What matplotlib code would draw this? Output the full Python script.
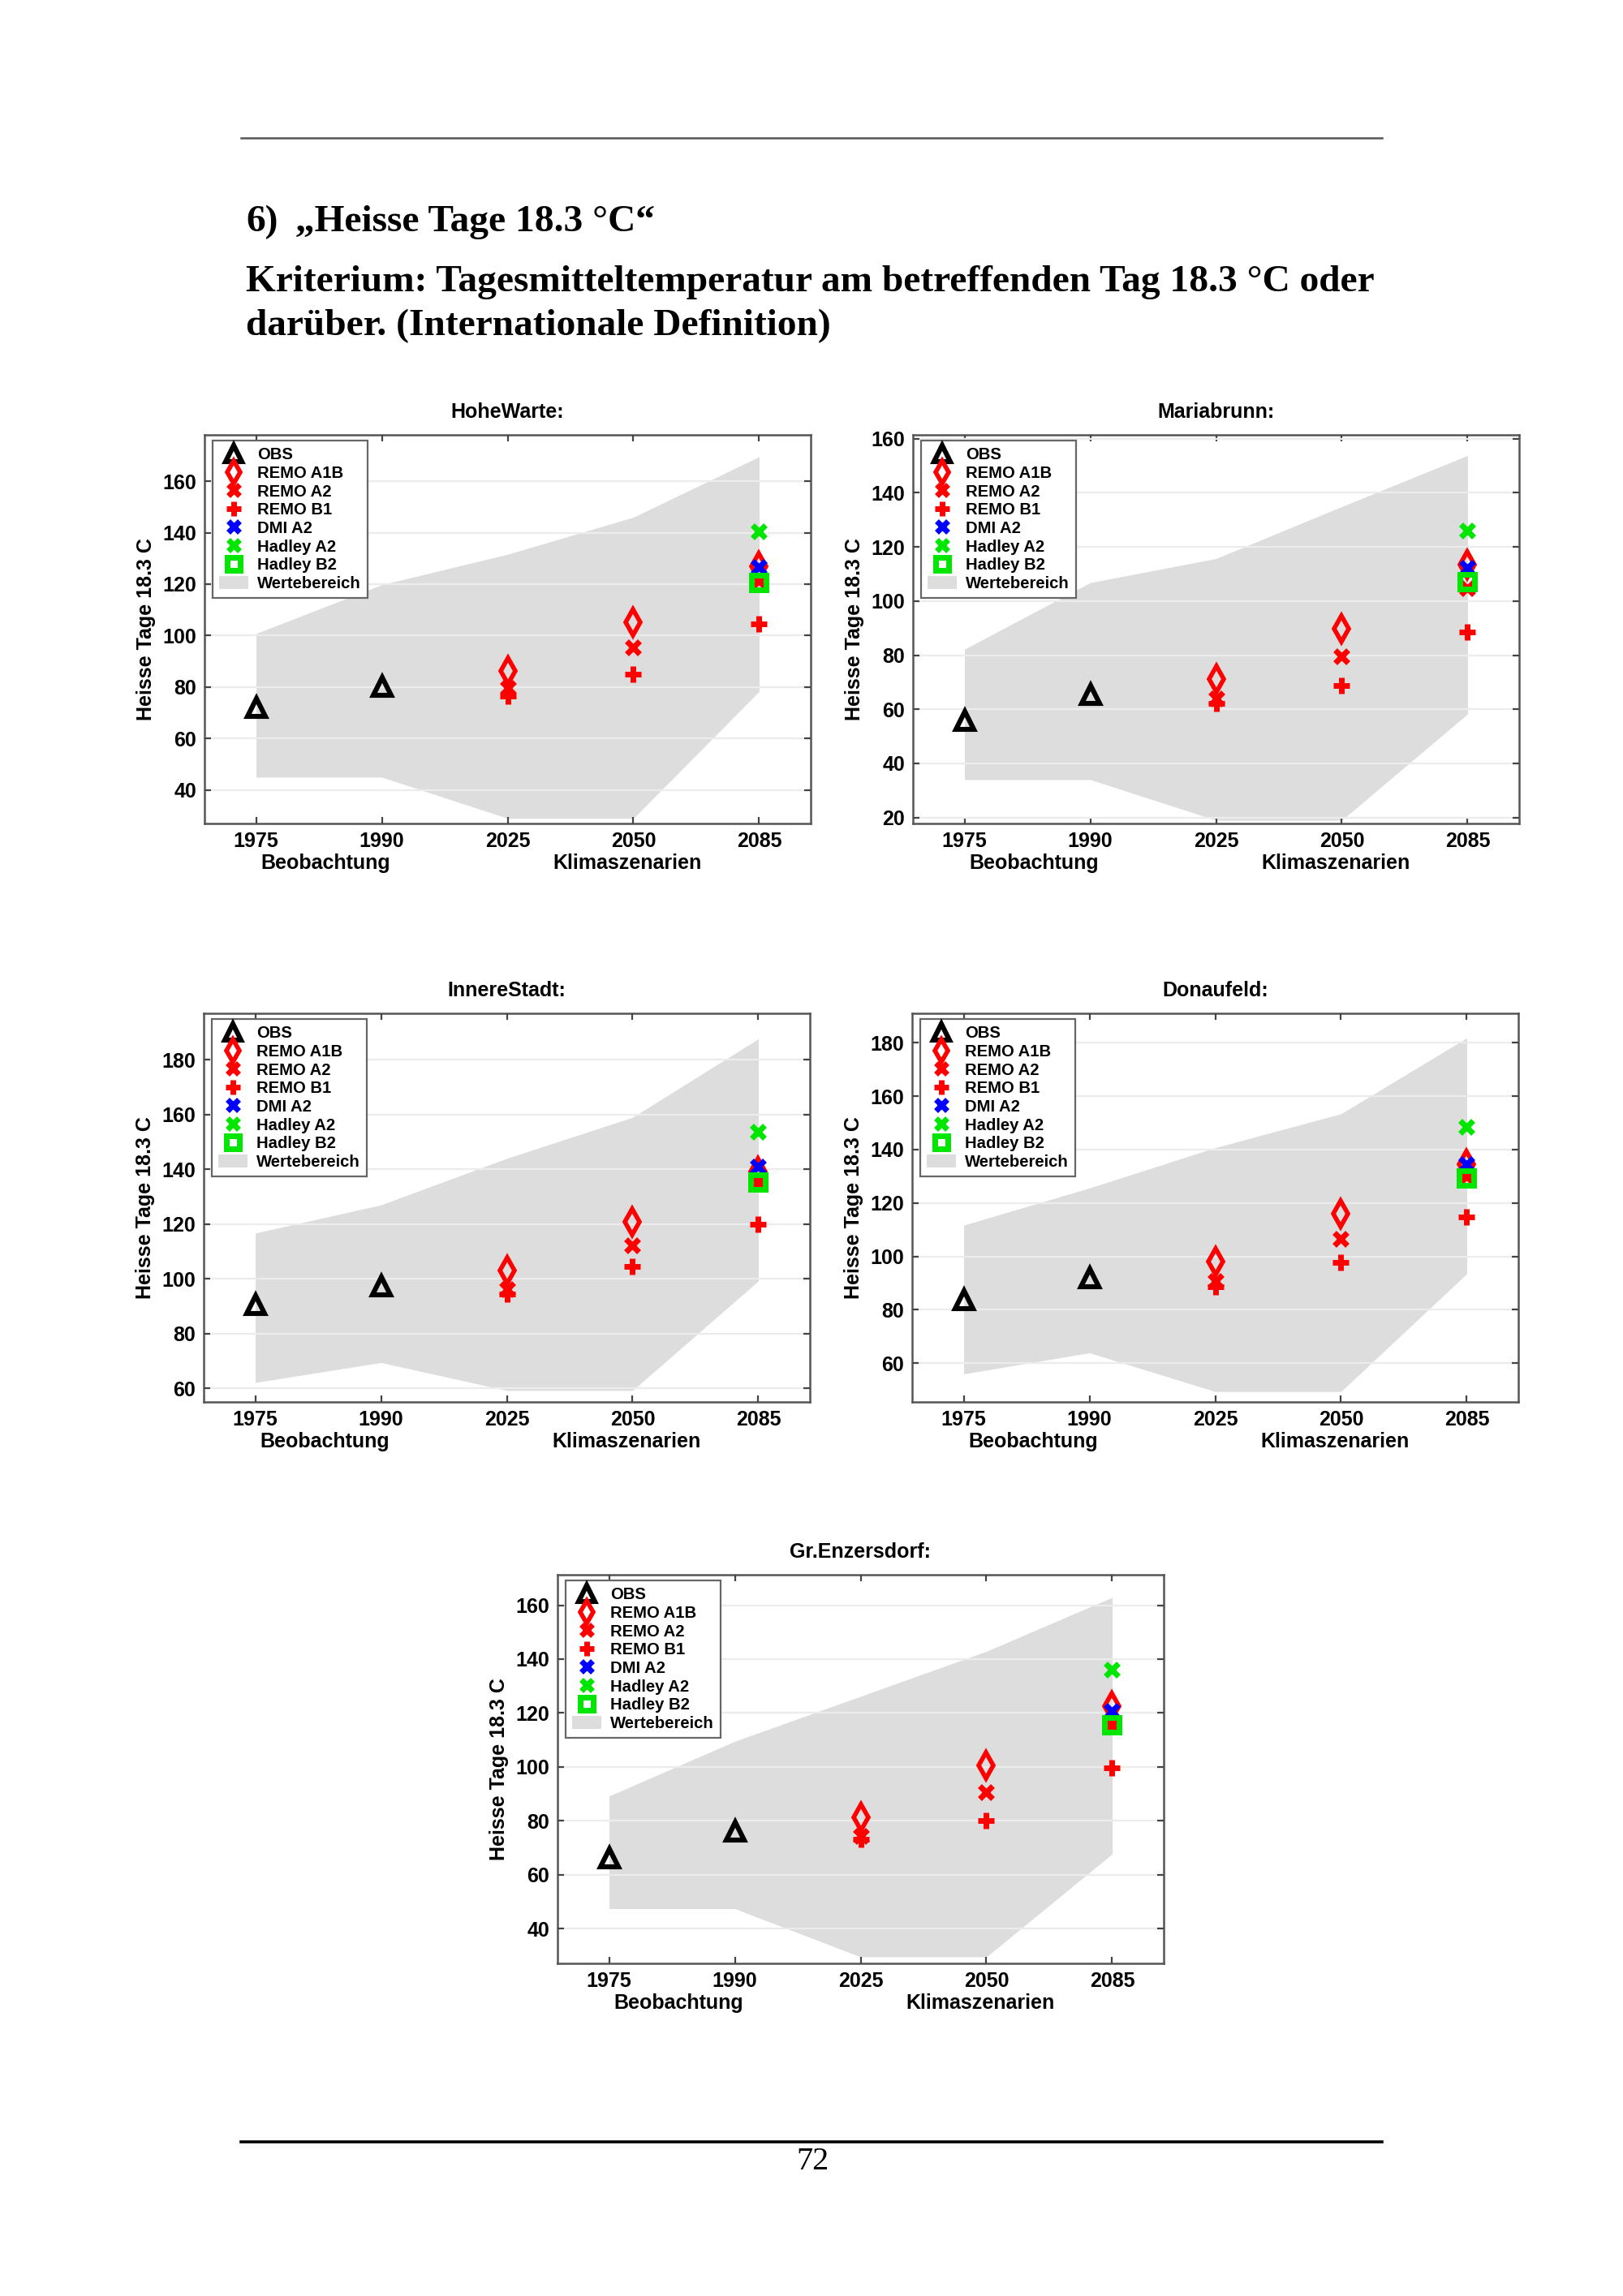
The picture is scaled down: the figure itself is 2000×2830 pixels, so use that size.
import matplotlib
matplotlib.use('Agg')
import matplotlib.pyplot as plt
from matplotlib.ticker import MultipleLocator

W, H = 2000, 2830

stations = ['HoheWarte:', 'Mariabrunn:', 'InnereStadt:', 'Donaufeld:', 'Gr.Enzersdorf:']
years = ['1975', '1990', '2025', '2050', '2085']

# observed values for 1975 / 1990
obs = [[72.0, 80.4], [56.0, 65.5], [90.6, 97.5], [83.8, 91.9], [66.3, 76.1]]
# scenario values for 2025 / 2050 / 2085
remo_a1b = [[86.4, 105.1, 126.9], [71.1, 89.8, 113.3], [103.0, 120.8, 139.3],
            [98.0, 115.9, 134.6], [81.3, 100.5, 122.6]]
remo_a2 = [[79.8, 95.4, 121.2], [63.9, 79.5, 104.8], [96.3, 112.2, 135.4],
           [90.7, 106.5, 129.8], [74.3, 90.6, 115.7]]
remo_b1 = [[76.6, 85.1, 104.5], [62.2, 68.7, 88.6], [94.5, 104.6, 119.9],
           [88.7, 97.7, 114.9], [73.1, 80.0, 99.7]]
# 2085 only
dmi_a2 = [126.5, 112.1, 140.9, 134.4, 120.8]
hadley_a2 = [140.4, 125.9, 153.8, 148.5, 136.0]
hadley_b2 = [120.6, 107.0, 135.2, 129.4, 115.7]
# Wertebereich (range band)
range_low = [[45, 45, 29, 29, 78.3], [34, 34, 19, 19, 58.3], [62.1, 69.4, 59.2, 59.2, 99.2],
             [56, 63.9, 49.4, 49.4, 93.5], [47.4, 47.4, 29.5, 29.5, 67.7]]
range_high = [[100.8, 119.8, 131.6, 146, 169.5], [82.2, 106.8, 115.7, 134.9, 153.8],
              [116.7, 127, 144, 159, 187.7], [111.7, 125.6, 140.7, 153.4, 181.8],
              [89.2, 109.5, 126.2, 142.9, 162.9]]
y_limits = [(27, 178), (17.8, 161.4), (55, 197), (45.5, 191), (27.1, 171.3)]

# panel boxes in pixels: left, top
panel_pos = [(252, 536), (1125, 536), (251, 1249), (1124, 1249), (687, 1941)]
PW, PH = 747, 479

RED = '#ff0000'
BLUE = '#0000ff'
GREEN = '#00e600'
BAND = '#dddddd'
SANS = 'Liberation Sans'
SERIF = 'Liberation Serif'

fig = plt.figure(figsize=(W / 200, H / 200), dpi=200)
fig.patch.set_facecolor('white')


def rect(left, top, w, h):
    return [left / W, 1 - (top + h) / H, w / W, h / H]


# page header / footer
hdr = fig.add_axes([0, 0, 1, 1])
hdr.set_xlim(0, W)
hdr.set_ylim(H, 0)
hdr.axis('off')
hdr.plot([297, 1703], [170, 170], color='#555555', lw=0.9)
hdr.plot([297, 1703], [2640, 2640], color='black', lw=1.3)
hdr.text(303, 285, '6)', family=SERIF, weight='bold', fontsize=17.05, va='baseline')
hdr.text(364, 285, '\u201eHeisse Tage 18.3 \u00b0C\u201c', family=SERIF, weight='bold',
         fontsize=17.05, va='baseline')
hdr.text(303, 359, 'Kriterium: Tagesmitteltemperatur am betreffenden Tag 18.3 \u00b0C oder',
         family=SERIF, weight='bold', fontsize=17.05, va='baseline')
hdr.text(303, 413, 'darüber. (Internationale Definition)', family=SERIF, weight='bold',
         fontsize=17.05, va='baseline')
hdr.text(1002, 2674, '72', family=SERIF, fontsize=14.5, ha='center', va='baseline')

xpos = [1, 2, 3, 4, 5]

for i, name in enumerate(stations):
    left, top = panel_pos[i]
    ax = fig.add_axes(rect(left, top, PW, PH))
    band = ax.fill_between(xpos, range_low[i], range_high[i], color=BAND, lw=0,
                           zorder=1, label='Wertebereich')
    ax.yaxis.set_major_locator(MultipleLocator(20))
    ax.grid(axis='y', color='#ececec', lw=0.8, zorder=1.5)
    ax.set_axisbelow(False)

    h_obs, = ax.plot(xpos[:2], obs[i], ls='none', marker='^', ms=8, mfc='none',
                     mec='black', mew=2.2, label='OBS', zorder=3)
    h_a1b, = ax.plot(xpos[2:], remo_a1b[i], ls='none', marker='d', ms=8, mfc='none',
                     mec=RED, mew=2.0, label='REMO A1B', zorder=3)
    h_a2, = ax.plot(xpos[2:], remo_a2[i], ls='none', marker='x', ms=6, mec=RED,
                    mew=2.5, label='REMO A2', zorder=3)
    h_b1, = ax.plot(xpos[2:], remo_b1[i], ls='none', marker='+', ms=7.5, mec=RED,
                    mew=2.5, label='REMO B1', zorder=3)
    h_dmi, = ax.plot([xpos[4]], [dmi_a2[i]], ls='none', marker='x', ms=6, mec=BLUE,
                     mew=2.5, label='DMI A2', zorder=3)
    h_ha2, = ax.plot([xpos[4]], [hadley_a2[i]], ls='none', marker='x', ms=6, mec=GREEN,
                     mew=2.5, label='Hadley A2', zorder=3)
    h_hb2, = ax.plot([xpos[4]], [hadley_b2[i]], ls='none', marker='s', ms=6.5, mfc='none',
                     mec=GREEN, mew=2.5, label='Hadley B2', zorder=3)

    ax.set_xlim(0.59, 5.41)
    ax.set_ylim(*y_limits[i])
    ax.set_xticks(xpos)
    ax.set_xticklabels(years)
    ax.tick_params(direction='in', top=True, right=True, length=3, width=0.8,
                   color='#444444', labelsize=9, pad=3.5)
    for lab in ax.get_xticklabels() + ax.get_yticklabels():
        lab.set_family(SANS)
        lab.set_weight('bold')
    for sp in ax.spines.values():
        sp.set_color('#555555')
        sp.set_linewidth(0.9)

    ax.set_ylabel('Heisse Tage 18.3 C', family=SANS, weight='bold', fontsize=9, labelpad=3)
    ax.annotate(name, xy=(0.5, 1), xycoords='axes fraction', xytext=(0, 10),
                textcoords='offset points', ha='center', va='center', family=SANS,
                weight='bold', fontsize=9)
    ax.annotate('Beobachtung', xy=(1.55, 0), xycoords=('data', 'axes fraction'),
                xytext=(0, -17.6), textcoords='offset points', ha='center', va='center',
                family=SANS, weight='bold', fontsize=9)
    ax.annotate('Klimaszenarien', xy=(3.95, 0), xycoords=('data', 'axes fraction'),
                xytext=(0, -17.6), textcoords='offset points', ha='center', va='center',
                family=SANS, weight='bold', fontsize=9)

    leg = ax.legend(handles=[h_obs, h_a1b, h_a2, h_b1, h_dmi, h_ha2, h_hb2, band],
                    loc='upper left', bbox_to_anchor=(0.013, 0.985), borderaxespad=0,
                    fancybox=False, framealpha=1, edgecolor='#666666',
                    prop={'family': SANS, 'weight': 'bold', 'size': 7.3},
                    labelspacing=0.18, borderpad=0.4, handlelength=1.8,
                    handleheight=0.8, handletextpad=0.55, markerscale=0.88)
    leg.get_frame().set_linewidth(0.8)
    leg.set_zorder(5)

fig.savefig('out.png', dpi=200, facecolor='white')
